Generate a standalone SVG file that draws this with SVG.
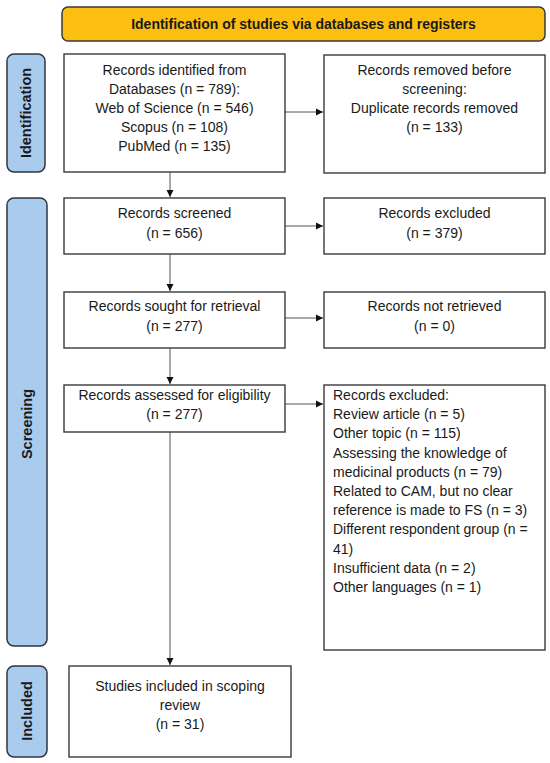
<svg xmlns="http://www.w3.org/2000/svg" width="550" height="763" viewBox="0 0 550 763">
<defs>
<style>
.box{fill:#fff;stroke:#3a3a3a;stroke-width:1.4}
.side{fill:#A9CBEE;stroke:#2f3640;stroke-width:1.5}
.hdr{fill:#FDBE12;stroke:#3a3a3a;stroke-width:1.5}
text{font-family:"Liberation Sans",Arial,sans-serif;font-size:14px;fill:#1a1a1a}
.c{text-anchor:middle}
.b{font-weight:bold}
.con{stroke:#555;stroke-width:1;fill:none;marker-end:url(#ah)}
</style>
<marker id="ah" markerWidth="8" markerHeight="8" refX="7" refY="4" orient="auto" markerUnits="userSpaceOnUse">
<path d="M0,0.5 L7,4 L0,7.5 Z" fill="#111"/>
</marker>
</defs>
<rect width="550" height="763" fill="#fff"/>
<g id="header">
<rect class="hdr" x="62" y="7" width="483" height="34" rx="6"/>
<text class="c b" x="303.5" y="29">Identification of studies via databases and registers</text>
</g>
<g id="label-identification">
<rect class="side" x="7" y="54" width="38" height="118" rx="7"/>
<text class="c b" transform="translate(31,113) rotate(-90)" style="font-size:14.5px">Identification</text>
</g>
<g id="label-screening">
<rect class="side" x="7" y="198" width="40" height="448" rx="7"/>
<text class="c b" transform="translate(32,424) rotate(-90)" style="font-size:14.5px">Screening</text>
</g>
<g id="label-included">
<rect class="side" x="7" y="666" width="40" height="91" rx="7"/>
<text class="c b" transform="translate(32,711) rotate(-90)" style="font-size:14.5px">Included</text>
</g>
<g id="connectors">
<line class="con" x1="285" y1="112" x2="323" y2="112"/>
<line class="con" x1="170" y1="172" x2="170" y2="197"/>
<line class="con" x1="285" y1="226" x2="323" y2="226"/>
<line class="con" x1="170" y1="254" x2="170" y2="291"/>
<line class="con" x1="285" y1="318" x2="323" y2="318"/>
<line class="con" x1="170" y1="348" x2="170" y2="384"/>
<line class="con" x1="285" y1="404" x2="323" y2="404"/>
<line class="con" x1="170" y1="432" x2="170" y2="665"/>
</g>
<g id="identified">
<rect class="box" x="64" y="54" width="221" height="118"/>
<text class="c" x="174.5" y="75">Records identified from</text>
<text class="c" x="174.5" y="94">Databases (n = 789):</text>
<text class="c" x="174.5" y="113">Web of Science (n = 546)</text>
<text class="c" x="174.5" y="132">Scopus (n = 108)</text>
<text class="c" x="174.5" y="151">PubMed (n = 135)</text>
</g>
<g id="removed">
<rect class="box" x="324" y="55" width="221" height="118"/>
<text class="c" x="434.5" y="75">Records removed before</text>
<text class="c" x="434.5" y="94">screening:</text>
<text class="c" x="434.5" y="113">Duplicate records removed</text>
<text class="c" x="434.5" y="132">(n = 133)</text>
</g>
<g id="screened">
<rect class="box" x="64" y="198" width="221" height="56"/>
<text class="c" x="174.5" y="218">Records screened</text>
<text class="c" x="174.5" y="238">(n = 656)</text>
</g>
<g id="excluded1">
<rect class="box" x="324" y="198" width="221" height="56"/>
<text class="c" x="434.5" y="218">Records excluded</text>
<text class="c" x="434.5" y="238">(n = 379)</text>
</g>
<g id="sought">
<rect class="box" x="64" y="292" width="221" height="56"/>
<text class="c" x="174.5" y="311">Records sought for retrieval</text>
<text class="c" x="174.5" y="331">(n = 277)</text>
</g>
<g id="notretrieved">
<rect class="box" x="324" y="292" width="221" height="56"/>
<text class="c" x="434.5" y="311">Records not retrieved</text>
<text class="c" x="434.5" y="331">(n = 0)</text>
</g>
<g id="assessed">
<rect class="box" x="64" y="385" width="221" height="47"/>
<text class="c" x="174.5" y="400">Records assessed for eligibility</text>
<text class="c" x="174.5" y="419">(n = 277)</text>
</g>
<g id="excluded2">
<rect class="box" x="324" y="385" width="221" height="265"/>
<text x="333" y="400">Records excluded:</text>
<text x="333" y="419.2">Review article (n = 5)</text>
<text x="333" y="438.4">Other topic (n = 115)</text>
<text x="333" y="457.6">Assessing the knowledge of</text>
<text x="333" y="476.8">medicinal products (n = 79)</text>
<text x="333" y="496">Related to CAM, but no clear</text>
<text x="333" y="515.2">reference is made to FS (n = 3)</text>
<text x="333" y="534.4">Different respondent group (n =</text>
<text x="333" y="553.6">41)</text>
<text x="333" y="572.8">Insufficient data (n = 2)</text>
<text x="333" y="592">Other languages (n = 1)</text>
</g>
<g id="included">
<rect class="box" x="69" y="666" width="222" height="91"/>
<text class="c" x="180" y="691">Studies included in scoping</text>
<text class="c" x="180" y="710">review</text>
<text class="c" x="180" y="729">(n = 31)</text>
</g>
</svg>
